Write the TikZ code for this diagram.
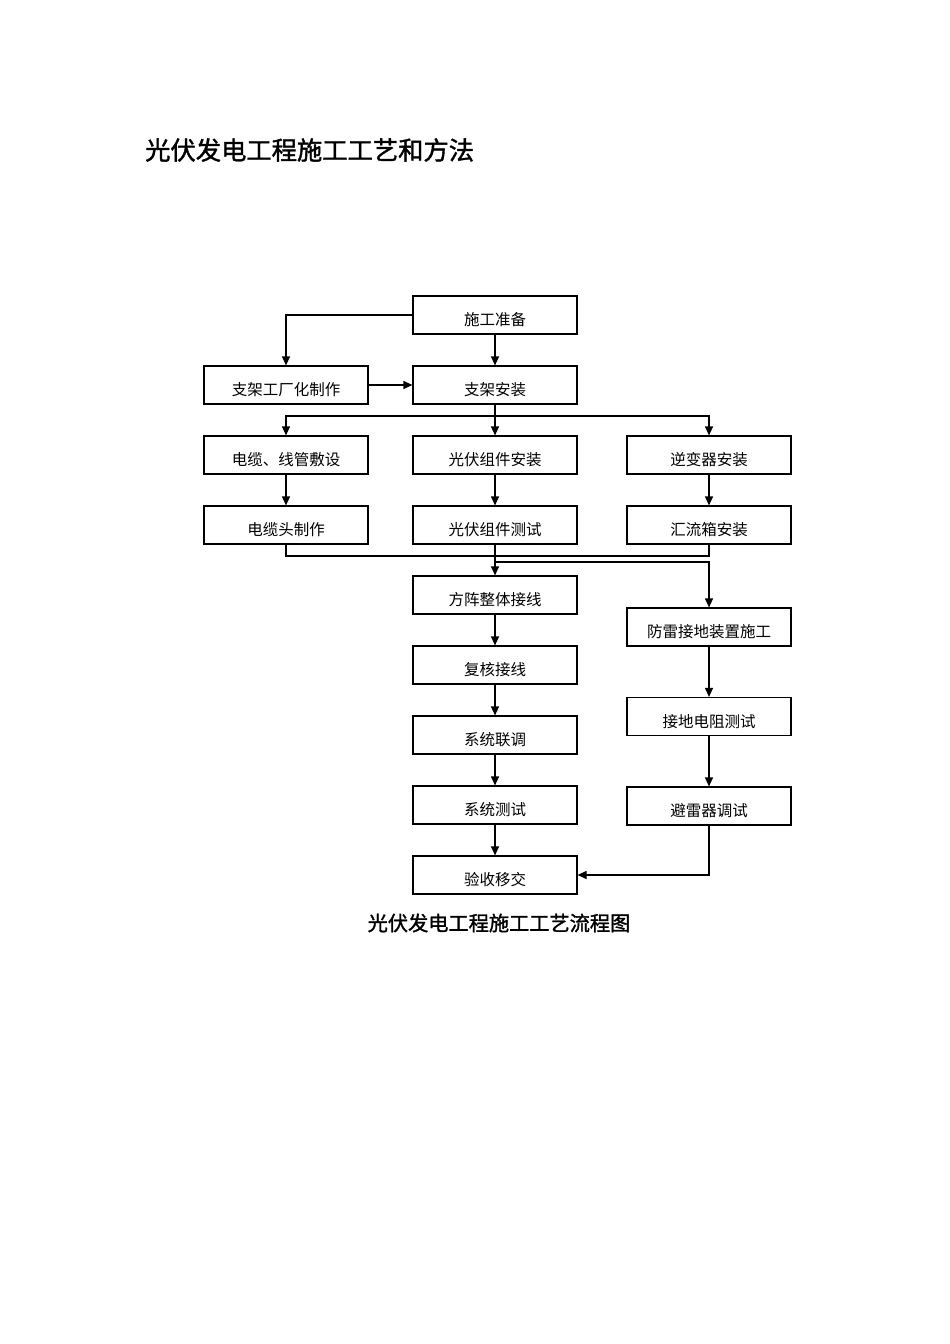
\documentclass[tikz,border=0pt]{standalone}
\usepackage{fontspec}
\newfontfamily\cjk{Noto Sans CJK SC}
\newfontfamily\cjkb[FakeBold=1.5]{Noto Sans CJK SC}
\usetikzlibrary{arrows.meta}
\begin{document}
\begin{tikzpicture}[x=1pt,y=-1pt,
  box/.style={draw, line width=1.2pt, minimum width=164pt, minimum height=38pt, inner sep=0pt, text height=21pt, text depth=0pt, font=\cjk\fontsize{15.5}{16}\selectfont},
  arr/.style={line width=1.2pt, -{Triangle[length=9pt,width=8pt]}},
  ln/.style={line width=1.2pt}]
\useasboundingbox (0,0) rectangle (950,1344);
\node[anchor=west, inner sep=0pt, font=\cjkb\fontsize{25.3}{25}\selectfont] (t) at (145,150) {光伏发电工程施工工艺和方法};
\node[box] (a) at (495,315) {施工准备};
\node[box] (b) at (286,385) {支架工厂化制作};
\node[box] (c) at (495,385) {支架安装};
\node[box] (d1) at (286,455) {电缆、线管敷设};
\node[box] (d2) at (495,455) {光伏组件安装};
\node[box] (d3) at (709,455) {逆变器安装};
\node[box] (e1) at (286,525) {电缆头制作};
\node[box] (e2) at (495,525) {光伏组件测试};
\node[box] (e3) at (709,525) {汇流箱安装};
\node[box] (f) at (495,595) {方阵整体接线};
\node[box] (g) at (495,665) {复核接线};
\node[box] (h) at (495,735) {系统联调};
\node[box] (i) at (495,805) {系统测试};
\node[box] (j) at (495,875) {验收移交};
\node[box] (p) at (709,627) {防雷接地装置施工};
\node[box] (q) at (709,716.5) {接地电阻测试};
\node[box] (r) at (709,806) {避雷器调试};
\node[inner sep=0pt, font=\cjkb\fontsize{20.2}{21}\selectfont] (cap) at (499,923) {光伏发电工程施工工艺流程图};
\draw[arr] (a.west) -| (b.north);
\draw[arr] (a.south) -- (c.north);
\draw[arr] (b.east) -- (c.west);
\coordinate (s1) at (495,416);
\draw[ln] (c.south) -- (s1);
\draw[arr] (s1) -- (d2.north);
\draw[arr] (s1) -| (d1.north);
\draw[arr] (s1) -| (d3.north);
\draw[arr] (d1.south) -- (e1.north);
\draw[arr] (d2.south) -- (e2.north);
\draw[arr] (d3.south) -- (e3.north);
\coordinate (s2) at (495,556);
\draw[ln] (e1.south) |- (s2) -| (e3.south);
\draw[arr] (e2.south) -- (f.north);
\coordinate (s3) at (495,562);
\draw[arr] (s3) -| (p.north);
\draw[arr] (f.south) -- (g.north);
\draw[arr] (g.south) -- (h.north);
\draw[arr] (h.south) -- (i.north);
\draw[arr] (i.south) -- (j.north);
\draw[arr] (p.south) -- (q.north);
\draw[arr] (q.south) -- (r.north);
\draw[arr] (r.south) |- (j.east);
\end{tikzpicture}
\end{document}
